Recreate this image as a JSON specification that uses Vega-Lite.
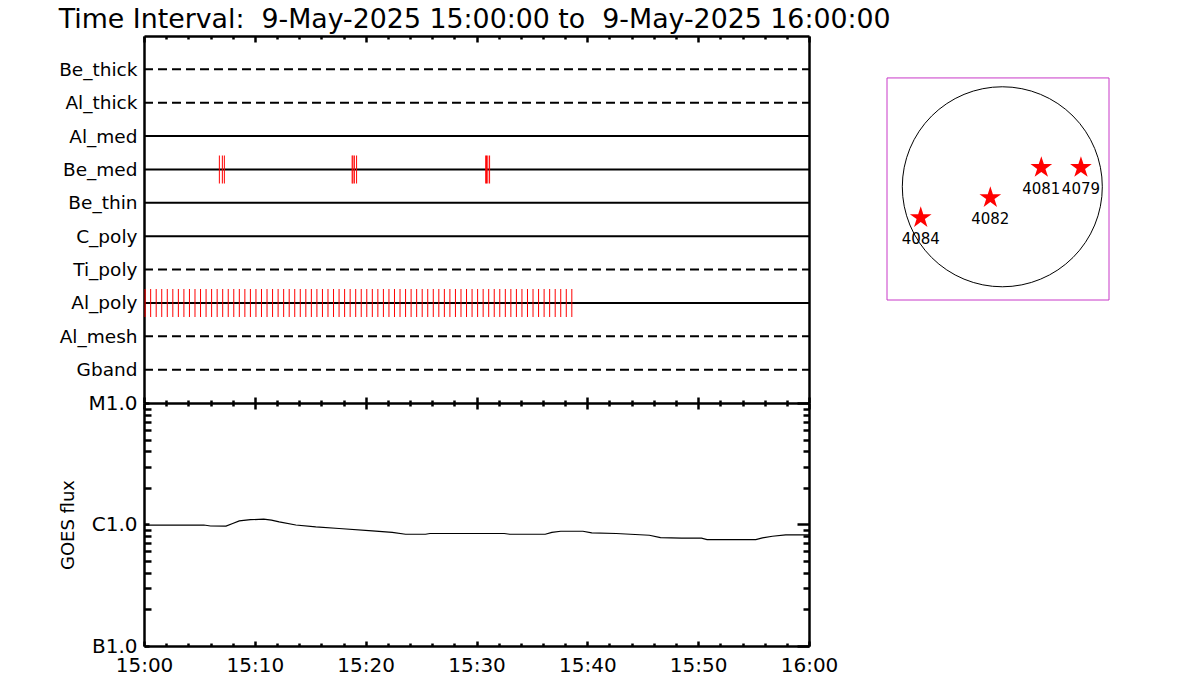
{
  "$schema": "https://vega.github.io/schema/vega-lite/v6.json",
  "background": "white",
  "padding": {"left": 58, "top": 6, "right": 5, "bottom": 5},
  "title": {"text": "Time Interval:\u00a0 9-May-2025 15:00:00 to\u00a0 9-May-2025 16:00:00", "anchor": "start", "font": "DejaVu Sans", "fontSize": 26.8, "fontWeight": "normal", "color": "black", "offset": 1},
  "config": {
    "view": {"stroke": null},
    "axis": {"domainColor": "black", "tickColor": "black", "labelColor": "black", "titleColor": "black", "labelFont": "DejaVu Sans", "titleFont": "DejaVu Sans", "domainWidth": 2.5, "tickWidth": 2.5, "grid": false, "titleFontWeight": "normal", "labelOverlap": false, "labelBound": false}
  },
  "datasets": {
    "filters": [
      {"filter": "Be_thick", "style": "dashed", "start": 0, "end": 60},
      {"filter": "Al_thick", "style": "dashed", "start": 0, "end": 60},
      {"filter": "Al_med", "style": "solid", "start": 0, "end": 60},
      {"filter": "Be_med", "style": "solid", "start": 0, "end": 60},
      {"filter": "Be_thin", "style": "solid", "start": 0, "end": 60},
      {"filter": "C_poly", "style": "solid", "start": 0, "end": 60},
      {"filter": "Ti_poly", "style": "dashed", "start": 0, "end": 60},
      {"filter": "Al_poly", "style": "solid", "start": 0, "end": 60},
      {"filter": "Al_mesh", "style": "dashed", "start": 0, "end": 60},
      {"filter": "Gband", "style": "dashed", "start": 0, "end": 60}
    ],
    "events": [
      {"filter": "Be_med", "minute": 6.8},
      {"filter": "Be_med", "minute": 7.07},
      {"filter": "Be_med", "minute": 7.25},
      {"filter": "Be_med", "minute": 18.78},
      {"filter": "Be_med", "minute": 18.85},
      {"filter": "Be_med", "minute": 18.98},
      {"filter": "Be_med", "minute": 19.18},
      {"filter": "Be_med", "minute": 30.83},
      {"filter": "Be_med", "minute": 30.9},
      {"filter": "Be_med", "minute": 31.02},
      {"filter": "Be_med", "minute": 31.18},
      {"filter": "Al_poly", "minute": 0.1}, {"filter": "Al_poly", "minute": 0.6},
      {"filter": "Al_poly", "minute": 1.1}, {"filter": "Al_poly", "minute": 1.6},
      {"filter": "Al_poly", "minute": 2.1}, {"filter": "Al_poly", "minute": 2.6},
      {"filter": "Al_poly", "minute": 3.1}, {"filter": "Al_poly", "minute": 3.6},
      {"filter": "Al_poly", "minute": 4.1}, {"filter": "Al_poly", "minute": 4.6},
      {"filter": "Al_poly", "minute": 5.1}, {"filter": "Al_poly", "minute": 5.6},
      {"filter": "Al_poly", "minute": 6.1}, {"filter": "Al_poly", "minute": 6.6},
      {"filter": "Al_poly", "minute": 7.1}, {"filter": "Al_poly", "minute": 7.6},
      {"filter": "Al_poly", "minute": 8.1}, {"filter": "Al_poly", "minute": 8.6},
      {"filter": "Al_poly", "minute": 9.1}, {"filter": "Al_poly", "minute": 9.6},
      {"filter": "Al_poly", "minute": 10.1}, {"filter": "Al_poly", "minute": 10.6},
      {"filter": "Al_poly", "minute": 11.1}, {"filter": "Al_poly", "minute": 11.6},
      {"filter": "Al_poly", "minute": 12.1}, {"filter": "Al_poly", "minute": 12.6},
      {"filter": "Al_poly", "minute": 13.1}, {"filter": "Al_poly", "minute": 13.6},
      {"filter": "Al_poly", "minute": 14.1}, {"filter": "Al_poly", "minute": 14.6},
      {"filter": "Al_poly", "minute": 15.1}, {"filter": "Al_poly", "minute": 15.6},
      {"filter": "Al_poly", "minute": 16.1}, {"filter": "Al_poly", "minute": 16.6},
      {"filter": "Al_poly", "minute": 17.1}, {"filter": "Al_poly", "minute": 17.6},
      {"filter": "Al_poly", "minute": 18.1}, {"filter": "Al_poly", "minute": 18.6},
      {"filter": "Al_poly", "minute": 19.1}, {"filter": "Al_poly", "minute": 19.6},
      {"filter": "Al_poly", "minute": 20.1}, {"filter": "Al_poly", "minute": 20.6},
      {"filter": "Al_poly", "minute": 21.1}, {"filter": "Al_poly", "minute": 21.6},
      {"filter": "Al_poly", "minute": 22.1}, {"filter": "Al_poly", "minute": 22.6},
      {"filter": "Al_poly", "minute": 23.1}, {"filter": "Al_poly", "minute": 23.6},
      {"filter": "Al_poly", "minute": 24.1}, {"filter": "Al_poly", "minute": 24.6},
      {"filter": "Al_poly", "minute": 25.1}, {"filter": "Al_poly", "minute": 25.6},
      {"filter": "Al_poly", "minute": 26.1}, {"filter": "Al_poly", "minute": 26.6},
      {"filter": "Al_poly", "minute": 27.1}, {"filter": "Al_poly", "minute": 27.6},
      {"filter": "Al_poly", "minute": 28.1}, {"filter": "Al_poly", "minute": 28.6},
      {"filter": "Al_poly", "minute": 29.1}, {"filter": "Al_poly", "minute": 29.6},
      {"filter": "Al_poly", "minute": 30.1}, {"filter": "Al_poly", "minute": 30.6},
      {"filter": "Al_poly", "minute": 31.1}, {"filter": "Al_poly", "minute": 31.6},
      {"filter": "Al_poly", "minute": 32.1}, {"filter": "Al_poly", "minute": 32.6},
      {"filter": "Al_poly", "minute": 33.1}, {"filter": "Al_poly", "minute": 33.6},
      {"filter": "Al_poly", "minute": 34.1}, {"filter": "Al_poly", "minute": 34.6},
      {"filter": "Al_poly", "minute": 35.1}, {"filter": "Al_poly", "minute": 35.6},
      {"filter": "Al_poly", "minute": 36.1}, {"filter": "Al_poly", "minute": 36.6},
      {"filter": "Al_poly", "minute": 37.1}, {"filter": "Al_poly", "minute": 37.6},
      {"filter": "Al_poly", "minute": 38.1}, {"filter": "Al_poly", "minute": 38.6}
    ],
    "goes": [
      {"minute": 0, "flux": 9.9e-7},
      {"minute": 5.4, "flux": 9.9e-7},
      {"minute": 6.0, "flux": 9.72e-7},
      {"minute": 7.4, "flux": 9.7e-7},
      {"minute": 8.0, "flux": 1.02e-6},
      {"minute": 8.6, "flux": 1.07e-6},
      {"minute": 9.6, "flux": 1.095e-6},
      {"minute": 10.8, "flux": 1.106e-6},
      {"minute": 11.5, "flux": 1.085e-6},
      {"minute": 12.2, "flux": 1.05e-6},
      {"minute": 13.7, "flux": 9.9e-7},
      {"minute": 15.5, "flux": 9.55e-7},
      {"minute": 17.6, "flux": 9.27e-7},
      {"minute": 20.6, "flux": 8.86e-7},
      {"minute": 22.4, "flux": 8.6e-7},
      {"minute": 23.6, "flux": 8.31e-7},
      {"minute": 25.4, "flux": 8.31e-7},
      {"minute": 25.8, "flux": 8.43e-7},
      {"minute": 32.5, "flux": 8.43e-7},
      {"minute": 33.0, "flux": 8.31e-7},
      {"minute": 36.2, "flux": 8.31e-7},
      {"minute": 36.8, "flux": 8.6e-7},
      {"minute": 37.6, "flux": 8.8e-7},
      {"minute": 39.6, "flux": 8.8e-7},
      {"minute": 40.4, "flux": 8.53e-7},
      {"minute": 42.6, "flux": 8.43e-7},
      {"minute": 45.6, "flux": 8.16e-7},
      {"minute": 46.6, "flux": 7.8e-7},
      {"minute": 48.5, "flux": 7.71e-7},
      {"minute": 50.3, "flux": 7.71e-7},
      {"minute": 50.8, "flux": 7.52e-7},
      {"minute": 55.2, "flux": 7.52e-7},
      {"minute": 55.8, "flux": 7.75e-7},
      {"minute": 56.7, "flux": 8.0e-7},
      {"minute": 57.9, "flux": 8.2e-7},
      {"minute": 60, "flux": 8.2e-7}
    ],
    "regions": [
      {"ar": "4084", "x": -776, "y": -294},
      {"ar": "4082", "x": -114, "y": -104},
      {"ar": "4081", "x": 371, "y": 182},
      {"ar": "4079", "x": 748, "y": 182}
    ]
  },
  "spacing": 48,
  "hconcat": [
    {
      "spacing": 0,
      "bounds": "flush",
      "vconcat": [
        {
          "width": 665,
          "height": 367,
          "resolve": {"axis": {"x": "independent", "y": "independent"}},
          "layer": [
            {
              "data": {"name": "filters"},
              "mark": {"type": "rule", "strokeWidth": 2, "color": "black"},
              "encoding": {
                "y": {"field": "filter", "type": "nominal",
                      "scale": {"type": "point", "padding": 1, "domain": ["Be_thick", "Al_thick", "Al_med", "Be_med", "Be_thin", "C_poly", "Ti_poly", "Al_poly", "Al_mesh", "Gband"]},
                      "axis": {"orient": "left", "title": null, "ticks": false, "labelPadding": 7, "labelFontSize": 18.5}},
                "x": {"field": "start", "type": "quantitative",
                      "scale": {"domain": [0, 60], "nice": false, "zero": false},
                      "axis": {"orient": "top", "title": null, "labels": false, "values": [0, 10, 20, 30, 40, 50, 60], "tickSize": -6}},
                "x2": {"field": "end"},
                "strokeDash": {"field": "style", "type": "nominal", "scale": {"domain": ["solid", "dashed"], "range": [[1, 0], [9, 5]]}, "legend": null}
              }
            },
            {
              "data": {"name": "events"},
              "mark": {"type": "tick", "orient": "vertical", "color": "#ff0000", "size": 28, "thickness": 1, "opacity": 1},
              "encoding": {
                "x": {"field": "minute", "type": "quantitative",
                      "axis": {"orient": "bottom", "title": null, "labels": false, "domain": false, "values": [0, 10, 20, 30, 40, 50, 60], "tickSize": -6}},
                "y": {"field": "filter", "type": "nominal",
                      "axis": {"orient": "right", "title": null, "labels": false, "ticks": false}}
              }
            },
            {
              "data": {"name": "filters"},
              "mark": {"type": "rule", "strokeOpacity": 0},
              "encoding": {
                "y": {"field": "filter", "type": "nominal", "axis": null},
                "x": {"field": "start", "type": "quantitative",
                      "axis": {"orient": "top", "title": null, "labels": false, "domain": false, "values": [2, 4, 6, 8, 12, 14, 16, 18, 22, 24, 26, 28, 32, 34, 36, 38, 42, 44, 46, 48, 52, 54, 56, 58], "tickSize": -3}}
              }
            },
            {
              "data": {"name": "filters"},
              "mark": {"type": "rule", "strokeOpacity": 0},
              "encoding": {
                "y": {"field": "filter", "type": "nominal", "axis": null},
                "x": {"field": "start", "type": "quantitative",
                      "axis": {"orient": "bottom", "title": null, "labels": false, "domain": false, "values": [2, 4, 6, 8, 12, 14, 16, 18, 22, 24, 26, 28, 32, 34, 36, 38, 42, 44, 46, 48, 52, 54, 56, 58], "tickSize": -3}}
              }
            }
          ]
        },
        {
          "width": 665,
          "height": 243,
          "resolve": {"axis": {"x": "independent", "y": "independent"}},
          "layer": [
            {
              "data": {"name": "goes"},
              "mark": {"type": "line", "color": "black", "strokeWidth": 1.2},
              "encoding": {
                "x": {"field": "minute", "type": "quantitative",
                      "scale": {"domain": [0, 60], "nice": false, "zero": false},
                      "axis": {"orient": "bottom", "title": null, "values": [0, 10, 20, 30, 40, 50, 60], "tickSize": -5,
                               "labelExpr": "datum.value == 60 ? '16:00' : '15:' + (datum.value < 10 ? '0' : '') + datum.value",
                               "labelFontSize": 20, "labelPadding": 14, "labelFlush": false}},
                "y": {"field": "flux", "type": "quantitative",
                      "scale": {"type": "log", "domain": [1e-7, 1e-5], "nice": false},
                      "axis": {"orient": "left", "title": "GOES flux", "titleFontSize": 18, "titlePadding": 10,
                               "values": [1e-7, 1e-6, 1e-5], "tickSize": -5,
                               "labelExpr": "datum.value < 0.0000005 ? 'B1.0' : datum.value < 0.000005 ? 'C1.0' : 'M1.0'",
                               "labelFontSize": 20, "labelPadding": 12, "labelFlush": false}}
              }
            },
            {
              "data": {"name": "goes"},
              "mark": {"type": "line", "strokeOpacity": 0},
              "encoding": {
                "x": {"field": "minute", "type": "quantitative",
                      "axis": {"orient": "top", "title": null, "labels": false, "values": [0, 10, 20, 30, 40, 50, 60], "tickSize": -6}},
                "y": {"field": "flux", "type": "quantitative",
                      "axis": {"orient": "right", "title": null, "labels": false, "values": [1e-7, 1e-6, 1e-5], "tickSize": -12}}
              }
            },
            {
              "data": {"name": "goes"},
              "mark": {"type": "line", "strokeOpacity": 0},
              "encoding": {
                "x": {"field": "minute", "type": "quantitative",
                      "axis": {"orient": "bottom", "title": null, "labels": false, "domain": false, "values": [2, 4, 6, 8, 12, 14, 16, 18, 22, 24, 26, 28, 32, 34, 36, 38, 42, 44, 46, 48, 52, 54, 56, 58], "tickSize": -3}},
                "y": {"field": "flux", "type": "quantitative",
                      "axis": {"orient": "left", "title": null, "labels": false, "domain": false,
                               "values": [2e-7, 3e-7, 4e-7, 5e-7, 6e-7, 7e-7, 8e-7, 9e-7, 2e-6, 3e-6, 4e-6, 5e-6, 6e-6, 7e-6, 8e-6, 9e-6], "tickSize": -7}}
              }
            },
            {
              "data": {"name": "goes"},
              "mark": {"type": "line", "strokeOpacity": 0},
              "encoding": {
                "x": {"field": "minute", "type": "quantitative",
                      "axis": {"orient": "top", "title": null, "labels": false, "domain": false, "values": [2, 4, 6, 8, 12, 14, 16, 18, 22, 24, 26, 28, 32, 34, 36, 38, 42, 44, 46, 48, 52, 54, 56, 58], "tickSize": -3}},
                "y": {"field": "flux", "type": "quantitative",
                      "axis": {"orient": "right", "title": null, "labels": false, "domain": false,
                               "values": [2e-7, 3e-7, 4e-7, 5e-7, 6e-7, 7e-7, 8e-7, 9e-7, 2e-6, 3e-6, 4e-6, 5e-6, 6e-6, 7e-6, 8e-6, 9e-6], "tickSize": -6}}
              }
            }
          ]
        }
      ]
    },
    {
      "width": 222,
      "height": 264,
      "layer": [
        {
          "data": {"values": [{"x0": -1097, "x1": 1015, "y0": -1077, "y1": 1035}]},
          "mark": {"type": "rect", "fill": "transparent", "stroke": "#c838c8", "strokeWidth": 1},
          "encoding": {
            "x": {"field": "x0", "type": "quantitative", "scale": {"domain": [-1097, 1015], "nice": false, "zero": false}, "axis": null},
            "x2": {"field": "x1"},
            "y": {"field": "y0", "type": "quantitative", "scale": {"domain": [-1077, 1434], "nice": false, "zero": false}, "axis": null},
            "y2": {"field": "y1"}
          }
        },
        {
          "data": {"values": [{"x": 0, "y": 0}]},
          "mark": {"type": "point", "shape": "circle", "filled": false, "stroke": "black", "strokeWidth": 1, "size": 40000, "opacity": 1},
          "encoding": {
            "x": {"field": "x", "type": "quantitative"},
            "y": {"field": "y", "type": "quantitative"}
          }
        },
        {
          "data": {"name": "regions"},
          "mark": {"type": "point", "shape": "M0,-1L0.2245,-0.309L0.951,-0.309L0.363,0.118L0.588,0.809L0,0.382L-0.588,0.809L-0.363,0.118L-0.951,-0.309L-0.2245,-0.309Z", "filled": true, "color": "#ff0000", "size": 520, "opacity": 1, "strokeWidth": 0},
          "encoding": {
            "x": {"field": "x", "type": "quantitative"},
            "y": {"field": "y", "type": "quantitative"}
          }
        },
        {
          "data": {"name": "regions"},
          "mark": {"type": "text", "dy": 21, "fontSize": 15, "font": "DejaVu Sans", "color": "black", "baseline": "middle", "align": "center"},
          "encoding": {
            "x": {"field": "x", "type": "quantitative"},
            "y": {"field": "y", "type": "quantitative"},
            "text": {"field": "ar", "type": "nominal"}
          }
        }
      ]
    }
  ]
}
